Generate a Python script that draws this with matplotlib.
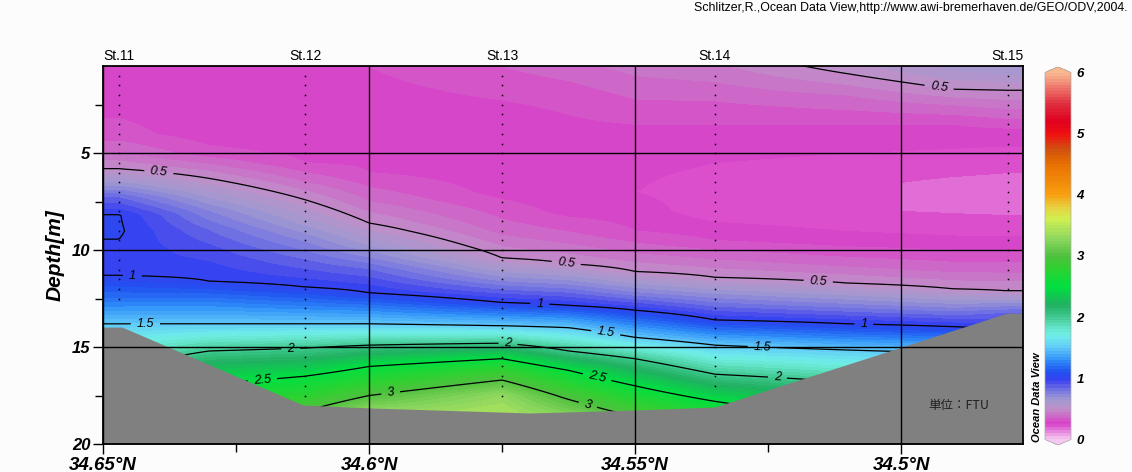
import numpy as np
import matplotlib
matplotlib.use("Agg")
import matplotlib.pyplot as plt
from matplotlib.colors import LinearSegmentedColormap
from matplotlib.ticker import FixedLocator
import matplotlib.transforms as mtransforms

plt.rcParams['font.family'] = ['Liberation Sans', 'DejaVu Sans']

# ---------------- data ----------------
station_names = ["St.11", "St.12", "St.13", "St.14", "St.15"]
station_lat = [34.647, 34.612, 34.575, 34.535, 34.480]
station_max_sample = [12.5, 17.5, 17.5, 17.0, 12.0]

# bottom topography (lat, depth)
bottom_lat = [34.650, 34.6464, 34.6124, 34.5998, 34.5698, 34.5500, 34.5350, 34.4801, 34.4771]
bottom_depth = [13.97, 13.97, 17.99, 18.14, 18.40, 18.25, 18.09, 13.25, 13.25]

# turbidity profiles (FTU) read from the section, one column per latitude
col_lat = [34.647, 34.630, 34.612, 34.600, 34.575, 34.5625, 34.550, 34.535, 34.510, 34.490, 34.480]
col_depth = [
    [0.5, 2, 4, 5, 5.8, 6.5, 7.3, 8.2, 9.0, 10.3, 11.3, 12.5, 13.8, 14.5, 16.0, 17.0, 18.2, 20],
    [0.5, 2, 4, 5, 6.3, 7, 8, 9, 10, 11, 11.6, 12.7, 13.8, 14.5, 15.2, 16.0, 16.9, 18, 20],
    [0.5, 2, 4, 5.5, 6.5, 7.4, 8.5, 9.5, 10.5, 11.3, 11.9, 12.9, 13.8, 14.4, 15.05, 15.8, 16.5, 17.5, 18.3, 20],
    [0.5, 2, 4, 6, 7.5, 8.6, 9.8, 11, 12.2, 13.0, 13.8, 14.35, 14.9, 15.45, 16.0, 16.8, 17.5, 18.2, 20],
    [0.5, 1.5, 3, 5, 7, 9, 10.4, 11.5, 12.7, 13.3, 13.9, 14.35, 14.8, 15.2, 15.6, 16.1, 16.7, 17.5, 18.3, 20],
    [0.5, 2, 4, 6, 8, 9.5, 10.7, 11.8, 12.85, 13.4, 14.0, 14.6, 15.2, 15.7, 16.2, 16.95, 17.7, 18.4, 20],
    [0.5, 2.2, 3.5, 5, 7, 9, 10, 11.1, 12.2, 13.1, 13.8, 14.5, 15.05, 15.6, 16.3, 17.0, 17.8, 18.6, 20],
    [0.5, 2.3, 3.5, 5, 6.5, 8, 9.5, 10.5, 11.4, 12.5, 13.6, 14.25, 14.9, 15.65, 16.4, 17.1, 17.8, 18.6, 20],
    [0.5, 0.9, 2, 3.5, 5, 6.5, 8, 9.5, 10.7, 11.7, 12.8, 13.8, 14.5, 15.15, 16.0, 16.8, 18, 20],
    [0.5, 1.7, 2.5, 3.5, 5, 6.5, 8, 9.5, 11, 12.0, 13, 13.95, 14.6, 15.3, 16.5, 18, 20],
    [0.5, 1.75, 2.7, 3.7, 5, 6.5, 8, 9.5, 11, 12.1, 13.25, 14.2, 15, 16, 18, 20],
]
col_value = [
    [0.28, 0.27, 0.32, 0.40, 0.5, 0.65, 0.85, 1.005, 1.01, 0.98, 1.0, 1.2, 1.5, 1.65, 1.95, 2.2, 2.6, 2.9],
    [0.27, 0.26, 0.27, 0.32, 0.5, 0.6, 0.75, 0.85, 0.92, 0.97, 1.0, 1.25, 1.5, 1.75, 2.0, 2.25, 2.5, 2.8, 3.0],
    [0.28, 0.27, 0.26, 0.30, 0.40, 0.5, 0.62, 0.74, 0.85, 0.93, 1.0, 1.25, 1.5, 1.75, 2.0, 2.25, 2.5, 2.75, 3.0, 3.1],
    [0.30, 0.28, 0.26, 0.30, 0.40, 0.5, 0.65, 0.85, 1.0, 1.25, 1.5, 1.75, 2.0, 2.25, 2.5, 2.75, 3.0, 3.25, 3.3],
    [0.35, 0.32, 0.28, 0.26, 0.28, 0.38, 0.5, 0.72, 1.0, 1.25, 1.5, 1.75, 2.0, 2.25, 2.5, 2.75, 3.0, 3.3, 3.4, 3.4],
    [0.38, 0.32, 0.28, 0.26, 0.28, 0.38, 0.5, 0.75, 1.0, 1.25, 1.5, 1.75, 2.0, 2.25, 2.5, 2.75, 3.0, 3.2, 3.2],
    [0.42, 0.35, 0.30, 0.27, 0.25, 0.30, 0.38, 0.5, 0.75, 1.0, 1.25, 1.5, 1.75, 2.0, 2.25, 2.5, 2.75, 3.0, 3.1],
    [0.44, 0.35, 0.30, 0.26, 0.23, 0.22, 0.30, 0.40, 0.5, 0.75, 1.0, 1.25, 1.5, 1.75, 2.0, 2.25, 2.5, 2.7, 2.8],
    [0.53, 0.5, 0.40, 0.30, 0.25, 0.21, 0.205, 0.27, 0.38, 0.5, 0.75, 1.0, 1.25, 1.5, 1.75, 2.0, 2.3, 2.5],
    [0.62, 0.5, 0.40, 0.30, 0.24, 0.19, 0.195, 0.26, 0.38, 0.5, 0.75, 1.0, 1.25, 1.5, 1.75, 2.0, 2.2],
    [0.65, 0.5, 0.40, 0.30, 0.23, 0.185, 0.19, 0.26, 0.38, 0.5, 0.85, 1.0, 1.25, 1.5, 1.8, 2.0],
]

contour_levels = [0.5, 1.0, 1.5, 2.0, 2.5, 3.0]
# label anchor points (lat, depth)
label_pos = [(34.6395, 5.98), (34.563, 10.8), (34.5156, 11.7), (34.4929, 1.65),
             (34.6445, 11.55), (34.5679, 12.7), (34.507, 13.8),
             (34.642, 13.8), (34.5556, 14.4), (34.5261, 15.1),
             (34.6147, 15.1), (34.5739, 14.85), (34.5233, 16.8),
             (34.620, 16.75), (34.5571, 16.5),
             (34.596, 17.2), (34.559, 18.1)]

xtick_major = [34.65, 34.60, 34.55, 34.50]
xtick_labels = ["34.65°N", "34.6°N", "34.55°N", "34.5°N"]
xtick_minor = [34.625, 34.575, 34.525]
ytick_major = [5, 10, 15, 20]
ytick_minor = [2.5, 7.5, 12.5, 17.5]

cmap_vals = [0.0, 0.1, 0.25, 0.35, 0.5, 0.65, 0.8, 0.95, 1.1, 1.3, 1.5, 1.7, 1.85, 2.0, 2.2,
             2.5, 2.8, 3.0, 3.3, 3.6, 3.8, 4.0, 4.5, 4.75, 5.0, 5.2, 5.5, 5.8, 6.0]
cmap_cols = ["#f4c8f0", "#e890e0", "#d840c8", "#d060c8", "#c090c8", "#a098d0", "#7878e0",
             "#3a40f0", "#2050f0", "#3090f8", "#60c8f8", "#70f0e8", "#60e0c0", "#40c890",
             "#20b060", "#00e040", "#30d030", "#50c040", "#90d860", "#d0f050", "#e8d040",
             "#f8a010", "#e87000", "#d05010", "#f01010", "#e00020", "#e03040", "#f08070",
             "#f8b890"]

# ---------------- gridding ----------------
lat_grid = np.linspace(34.4771, 34.65, 500)
dep_grid = np.linspace(0.5, 20, 400)
cols = np.array([np.interp(dep_grid, d, v) for d, v in zip(col_depth, col_value)])  # (ncol, ndep)
order = np.argsort(col_lat)
clat = np.array(col_lat)[order]
cols = cols[order]
field = np.empty((dep_grid.size, lat_grid.size))
for i in range(dep_grid.size):
    field[i] = np.interp(lat_grid, clat, cols[:, i])

cmap = LinearSegmentedColormap.from_list(
    "odv", [(v / 6.0, c) for v, c in zip(cmap_vals, cmap_cols)], N=512)

# ---------------- figure ----------------
W, H = 1132, 472
fig = plt.figure(figsize=(W / 100, H / 100), dpi=100)
fig.patch.set_facecolor("#fcfcfc")

def fx(px):
    return px / W

def fy(py):
    return 1 - py / H

ax = fig.add_axes([fx(103), fy(444), fx(1023) - fx(103), fy(66) - fy(444)])
fill_levels = np.arange(0, 6.0001, 0.05)
cf = ax.contourf(lat_grid, dep_grid, field, levels=fill_levels, cmap=cmap,
                 extend='both', zorder=1, antialiased=False)
cs = ax.contour(lat_grid, dep_grid, field, levels=contour_levels, colors='k',
                linewidths=0.9, zorder=2)
labels = ax.clabel(cs, contour_levels, inline=True, inline_spacing=6,
                   fmt=lambda v: f"{v:g}", fontsize=9, manual=label_pos)
for t in cs.labelTexts:
    t.set_fontstyle('italic')
    t.set_zorder(3.5)

# bottom
ax.fill_between(bottom_lat, bottom_depth, 21, color="#808080", lw=0, zorder=2.2)

# sample dots
for lat, mx in zip(station_lat, station_max_sample):
    d = np.arange(1.0, mx + 0.01, 0.5)
    ax.plot(np.full(d.size, lat), d, ls='none', marker='s', ms=1.1, mew=0,
            color='k', zorder=2.1)

ax.set_xlim(34.65, 34.4771)
ax.set_ylim(20, 0.5)

ax.xaxis.set_major_locator(FixedLocator(xtick_major))
ax.xaxis.set_minor_locator(FixedLocator(xtick_minor))
ax.set_xticklabels(xtick_labels)
ax.yaxis.set_major_locator(FixedLocator(ytick_major))
ax.yaxis.set_minor_locator(FixedLocator(ytick_minor))
ax.set_yticklabels([str(v) for v in ytick_major])

ax.tick_params(which='both', direction='out', width=1, colors='k')
ax.tick_params(which='major', length=7)
ax.tick_params(which='minor', length=6)
ax.tick_params(axis='x', which='major', pad=2)
ax.tick_params(axis='y', which='major', pad=2)
for lab in ax.get_xticklabels():
    lab.set_fontsize(13.5)
    lab.set_fontweight('bold')
    lab.set_fontstyle('italic')
for lab in ax.get_yticklabels():
    lab.set_fontsize(12)
    lab.set_fontweight('bold')
    lab.set_fontstyle('italic')

ax.set_axisbelow(False)
ax.grid(which='major', color='k', lw=1)
for gl in ax.get_xgridlines() + ax.get_ygridlines():
    gl.set_zorder(3)
for s in ax.spines.values():
    s.set_linewidth(1.3)
    s.set_zorder(4)

ax.set_ylabel("Depth[m]", fontsize=15, fontweight='bold', fontstyle='italic', labelpad=5)

# station labels
trans = mtransforms.blended_transform_factory(ax.transData, ax.transAxes)
for name, lat in zip(station_names, station_lat):
    ax.text(lat, 1.008, name, transform=trans, ha='center', va='bottom', fontsize=10)

ax.text((928 - 103) / 920, (444 - 405) / 378, "単位：FTU", transform=ax.transAxes,
        ha='left', va='center', fontsize=9, color='#222222',
        family=['Noto Sans CJK JP', 'Liberation Sans'], zorder=5)

# colorbar
cax = fig.add_axes([fx(1045), fy(445), fx(26), fy(67) - fy(445)])
cb = fig.colorbar(cf, cax=cax, ticks=list(range(7)), extendfrac=0.015)
cb.outline.set_linewidth(0.5)
cb.outline.set_edgecolor('#aaaaaa')
cax.tick_params(length=0, pad=4)
for lab in cax.get_yticklabels():
    lab.set_fontsize(9.5)
    lab.set_fontweight('bold')
    lab.set_fontstyle('italic')

fig.text(fx(1037), fy(442), "Ocean Data View", rotation=90, ha='center', va='bottom',
         fontsize=8, fontweight='bold', fontstyle='italic')

fig.text(fx(1128), fy(8), "Schlitzer,R.,Ocean Data View,http://www.awi-bremerhaven.de/GEO/ODV,2004.",
         ha='right', va='center', fontsize=8.9)

fig.savefig("out.png", dpi=100, facecolor=fig.get_facecolor())
